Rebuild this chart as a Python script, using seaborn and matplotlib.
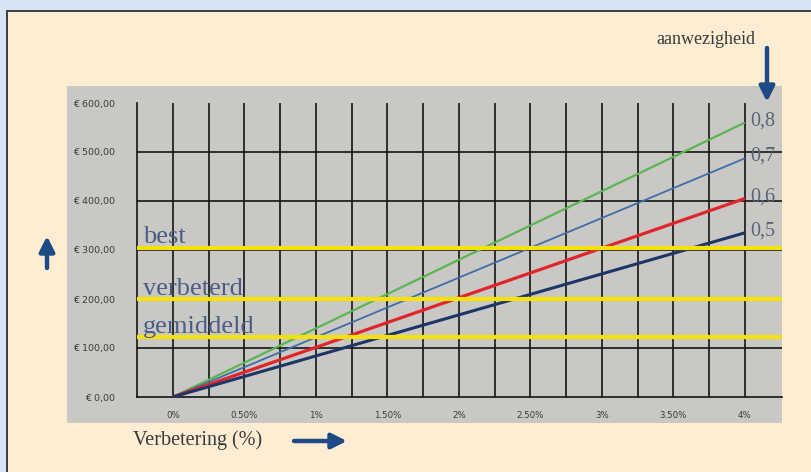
import matplotlib
matplotlib.use("Agg")
import matplotlib.pyplot as plt
from matplotlib.patches import Rectangle
from matplotlib.text import Annotation
from matplotlib.ticker import FixedLocator, FuncFormatter
import seaborn as sns
import pandas as pd

# Improvement percentage (start and end of each line)
verbetering = [0.0, 4.0]
# Savings per presence level
aanwezigheid = ["0,8", "0,7", "0,6", "0,5"]
besparing = {
    "0,8": [0.0, 560.0],
    "0,7": [0.0, 487.0],
    "0,6": [0.0, 405.0],
    "0,5": [0.0, 335.0],
}
# Reference levels
niveau_namen = ["best", "verbeterd", "gemiddeld"]
niveau_waarden = [305.0, 200.0, 122.0]

# Axis ticks
x_ticks = [0, 0.5, 1, 1.5, 2, 2.5, 3, 3.5, 4]
x_labels = ["0%", "0.50%", "1%", "1.50%", "2%", "2.50%", "3%", "3.50%", "4%"]
y_ticks = [0, 100, 200, 300, 400, 500, 600]

kleuren = {"0,8": "#5ab552", "0,7": "#3f6ea8", "0,6": "#e0262b", "0,5": "#1d3567"}
dikte = {"0,8": 1.6, "0,7": 1.3, "0,6": 2.3, "0,5": 2.2}

rows = []
for naam in aanwezigheid:
    for x, y in zip(verbetering, besparing[naam]):
        rows.append({"verbetering": x, "besparing": y, "aanwezigheid": naam})
df = pd.DataFrame(rows)

sns.set_style("white")
plt.rcParams["font.family"] = ["DejaVu Sans"]
SERIF = ["Liberation Serif", "DejaVu Serif"]

W, H = 812, 472
fig = plt.figure(figsize=(W / 100, H / 100), dpi=100)
fig.patch.set_facecolor("#d7e4f4")


def fx(px):
    return px / W


def fy(py):
    return 1 - py / H


# cream panel with dark top/left border
fig.patches.append(Rectangle((fx(7), 0), 1 - fx(7), fy(11), transform=fig.transFigure,
                             facecolor="#fdedd2", edgecolor="none", zorder=-3))
fig.add_artist(plt.Line2D([fx(7), fx(7)], [0, fy(11)], color="#3d3d45", lw=1.4,
                          transform=fig.transFigure, zorder=-2))
fig.add_artist(plt.Line2D([fx(7), 1], [fy(11), fy(11)], color="#3d3d45", lw=1.4,
                          transform=fig.transFigure, zorder=-2))
# grey chart area
fig.patches.append(Rectangle((fx(67), fy(423)), fx(782) - fx(67), fy(86) - fy(423),
                             transform=fig.transFigure, facecolor="#c9c8c4",
                             edgecolor="none", zorder=-1))

ax = fig.add_axes([fx(137), fy(397), fx(782) - fx(137), fy(103) - fy(397)])
ax.set_facecolor("#c9c8c4")

sns.lineplot(data=df, x="verbetering", y="besparing", hue="aanwezigheid",
             palette=kleuren, ax=ax, legend=False, zorder=3)
for line, naam in zip(ax.get_lines(), aanwezigheid):
    line.set_linewidth(dikte[naam])
    line.set_solid_capstyle("butt")

ax.set_xlim(-0.25, 4.26)
ax.set_ylim(0, 600)

# grid
for k in range(17):
    ax.axvline(k * 0.25, color="#141414", lw=1.2, zorder=1)
for v in y_ticks[1:-1]:
    ax.axhline(v, color="#141414", lw=1.2, zorder=1)

# reference levels
for naam, v in zip(niveau_namen, niveau_waarden):
    ax.axhline(v, color="#f4e20a", lw=3.0, zorder=4)
    ax.text(-0.21, v + 9, naam, family=SERIF, fontsize=19, color="#4a5d85",
            ha="left", va="baseline", zorder=5)

# presence labels at the ends of the lines
for naam in aanwezigheid:
    ax.text(4.04, besparing[naam][-1] + 4, naam, family=SERIF, fontsize=14.5,
            color="#56657a", ha="left", va="center", zorder=5)

for s in ["top", "right"]:
    ax.spines[s].set_visible(False)
for s in ["left", "bottom"]:
    ax.spines[s].set_color("#141414")
    ax.spines[s].set_linewidth(1.2)

ax.xaxis.set_major_locator(FixedLocator(x_ticks))
ax.xaxis.set_minor_locator(FixedLocator([-0.25 + 0.25 * k for k in range(18)]))
ax.set_xticklabels(x_labels)
ax.yaxis.set_major_locator(FixedLocator(y_ticks))
ax.yaxis.set_major_formatter(FuncFormatter(lambda v, p: f"€ {v:.0f},00"))
ax.tick_params(axis="x", which="both", direction="out", length=4, width=1.2,
               color="#141414", labelsize=6.2, labelcolor="#3a3a3a", pad=6)
ax.tick_params(axis="y", direction="out", length=4, width=1.2, color="#141414",
               labelsize=6.8, labelcolor="#3a3a3a", pad=12)
ax.set_xlabel("")
ax.set_ylabel("")

# annotations around the chart
fig.text(fx(706), fy(40), "aanwezigheid", family=SERIF, fontsize=13,
         color="#3a3a3a", ha="center", va="center")
fig.text(fx(198), fy(440), "Verbetering (%)", family=SERIF, fontsize=14.5,
         color="#3a3a3a", ha="center", va="center")

arrow = dict(arrowstyle="-|>,head_length=0.9,head_width=0.45", color="#1f4a86",
             lw=3.2, shrinkA=0, shrinkB=0)
for tip, tail in [((767, 102), (767, 48)), ((47, 236), (47, 268)), ((347, 441), (294, 441))]:
    fig.add_artist(Annotation("", xy=(fx(tip[0]), fy(tip[1])),
                              xytext=(fx(tail[0]), fy(tail[1])),
                              xycoords="figure fraction", textcoords="figure fraction",
                              arrowprops=arrow))

fig.savefig("out.png", dpi=100, facecolor=fig.get_facecolor())
